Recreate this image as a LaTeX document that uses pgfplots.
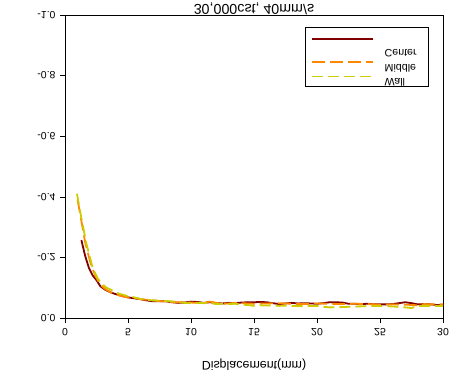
\documentclass[border=0pt]{standalone}
\usepackage{fontspec}
\setmainfont{Liberation Sans}
\usepackage{graphicx}
\usepackage{pgfplots}
\pgfplotsset{compat=1.18}
\newcommand{\flip}[1]{\scalebox{1}[-1]{#1}}
\definecolor{cCenter}{RGB}{128,0,0}
\definecolor{cMiddle}{RGB}{255,136,0}
\definecolor{cWall}{RGB}{204,204,0}
\pgfplotstableread{
x y
1.3 -0.257
1.6 -0.205
1.9 -0.165
2.2 -0.14
2.5 -0.125
2.8 -0.105
3.2 -0.093
3.6 -0.085
4.0 -0.079
4.5 -0.073
5.0 -0.068
5.5 -0.065
6.0 -0.062
6.5 -0.058
7.0 -0.055
7.5 -0.055
8.0 -0.055
8.5 -0.052
9.0 -0.050
9.5 -0.051
10.0 -0.054
10.5 -0.053
11.0 -0.050
11.5 -0.052
12.0 -0.049
12.5 -0.048
13.0 -0.050
13.5 -0.049
14.0 -0.051
14.5 -0.052
15.0 -0.052
15.5 -0.053
16.0 -0.052
16.5 -0.049
17.0 -0.046
17.5 -0.048
18.0 -0.050
18.5 -0.048
19.0 -0.049
19.5 -0.048
20.0 -0.047
20.5 -0.049
21.0 -0.052
21.5 -0.052
22.0 -0.051
22.5 -0.047
23.0 -0.047
23.5 -0.046
24.0 -0.047
24.5 -0.045
25.0 -0.045
25.5 -0.045
26.0 -0.046
26.5 -0.049
27.0 -0.052
27.5 -0.049
28.0 -0.045
28.5 -0.046
29.0 -0.045
29.5 -0.043
30.0 -0.043
}\centerdata
\pgfplotstableread{
x y
1.0 -0.39
1.3 -0.32
1.6 -0.25
2.0 -0.185
2.4 -0.14
2.8 -0.11
3.2 -0.095
3.6 -0.085
4.0 -0.078
4.5 -0.072
5.0 -0.068
5.5 -0.066
6.0 -0.062
6.5 -0.060
7.0 -0.058
7.5 -0.056
8.0 -0.054
8.5 -0.052
9.0 -0.052
9.5 -0.053
10.0 -0.051
10.5 -0.050
11.0 -0.051
11.5 -0.054
12.0 -0.050
12.5 -0.047
13.0 -0.048
13.5 -0.050
14.0 -0.049
14.5 -0.048
15.0 -0.047
16 -0.048
17 -0.049
18 -0.047
19 -0.046
20 -0.048
21 -0.047
22 -0.046
23 -0.047
24 -0.046
25 -0.044
26 -0.045
27 -0.044
28 -0.042
28.5 -0.046
29 -0.045
30 -0.045
}\middledata
\pgfplotstableread{
x y
0.95 -0.41
1.3 -0.33
1.7 -0.245
2.2 -0.165
2.6 -0.13
3.0 -0.11
3.3 -0.10
3.8 -0.09
4.3 -0.08
5.0 -0.072
5.5 -0.068
6.0 -0.063
6.5 -0.060
7.0 -0.058
7.5 -0.057
8.0 -0.056
8.5 -0.055
9.0 -0.052
9.5 -0.050
10.0 -0.049
10.5 -0.050
11.0 -0.049
11.5 -0.050
12.0 -0.046
12.5 -0.047
13.0 -0.046
13.5 -0.047
14.0 -0.044
14.5 -0.043
15.0 -0.040
15.5 -0.042
16 -0.041
16.5 -0.042
17 -0.040
17.5 -0.041
18 -0.040
19 -0.039
20 -0.040
20.5 -0.037
21 -0.035
22 -0.036
23 -0.038
24 -0.039
25 -0.040
26 -0.038
27 -0.035
27.5 -0.033
28 -0.040
29 -0.040
30 -0.040
}\walldata
\begin{document}
\begin{tikzpicture}
\useasboundingbox (0bp,0bp) rectangle (449bp,374bp);
\begin{axis}[
  at={(65bp,56bp)}, anchor=south west,
  width=378bp, height=303bp, scale only axis,
  xmin=0, xmax=30, ymin=-1, ymax=0, y dir=reverse,
  xtick={0,5,10,15,20,25,30},
  ytick={-1,-0.8,-0.6,-0.4,-0.2,0},
  xticklabel={\flip{\pgfmathprintnumber{\tick}}},
  yticklabel={\flip{\pgfmathprintnumber[fixed,fixed zerofill,precision=1]{\tick}}},
  /pgf/number format/assume math mode=true,
  tick align=outside, tick pos=left, major tick length=5bp,
  tick style={black, line width=0.6bp},
  axis line style={black, line width=0.6bp},
  tick label style={font=\fontsize{10.5}{12}\selectfont},
  xticklabel style={anchor=center, yshift=-9bp},
  yticklabel style={anchor=east, xshift=-1bp},
  title={\flip{\fontsize{14.3}{16}\selectfont 30,000cst, 40mm/s}},
  title style={at={(axis description cs:0.5,1)}, anchor=center, yshift=0bp},
  xlabel={\flip{\fontsize{12.5}{14}\selectfont Displacement(mm)}},
  xlabel style={at={(axis description cs:0.5,0)}, anchor=center, yshift=-47bp},
  legend style={at={(axis description cs:0.963,0.96)}, anchor=north east,
    draw=black, line width=0.6bp, font=\fontsize{10.7}{12}\selectfont,
    inner xsep=6bp, inner ysep=4bp, row sep=8bp, legend cell align=left},
  legend image code/.code={\draw[#1] (0bp,3bp) -- (61bp,3bp);},
]
\addplot[cCenter, line width=1.8bp] table[x=x,y=y] {\centerdata};
\addlegendentry{\hspace*{9bp}\rule{0pt}{16bp}\flip{Center}\hspace*{4bp}}
\addplot[cMiddle, line width=1.8bp, dash pattern=on 13bp off 5bp] table[x=x,y=y] {\middledata};
\addlegendentry{\hspace*{9bp}\flip{Middle}\hspace*{4bp}}
\addplot[cWall, line width=1.8bp, dash pattern=on 11bp off 5bp] table[x=x,y=y] {\walldata};
\addlegendentry{\hspace*{9bp}\flip{Wall}\hspace*{4bp}}
\end{axis}
\end{tikzpicture}
\end{document}
